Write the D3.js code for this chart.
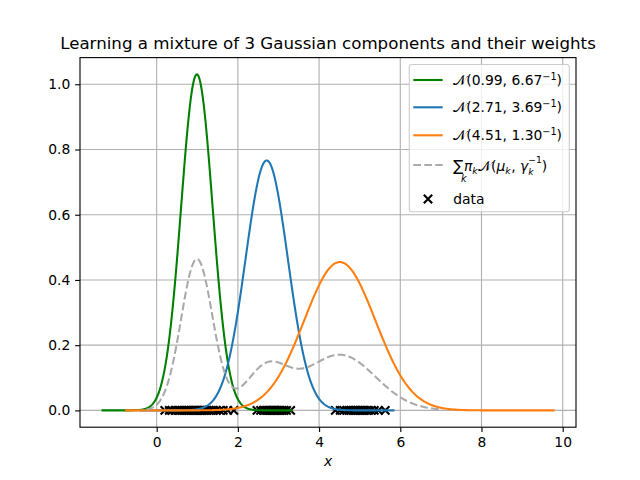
<!DOCTYPE html>
<html><head><meta charset="utf-8">
<script src="https://cdn.jsdelivr.net/npm/d3@7"></script>
<style>body{margin:0;background:#fff} text{font-family:"DejaVu Sans",sans-serif; white-space:pre}</style>
</head><body><svg id="c" width="640" height="480"></svg>
<script>
// ---- data ----
const means = [0.99, 2.71, 4.51];
const precisions = [6.67, 3.69, 1.30];
const weights = [0.45, 0.165, 0.375];
const compColors = ["#008000", "#1f77b4", "#ff7f0e"];
const compLabels = ["0.99, 6.67", "2.71, 3.69", "4.51, 1.30"];
const sdSpan = 6;
const mixtureRange = [-0.25, 7.0];
const dataX = [
  0.20, 0.31, 0.38, 0.45, 0.52, 0.58, 0.63, 0.67, 0.72, 0.76, 0.80, 0.84, 0.88, 0.91, 0.94, 0.97,
  1.00, 1.03, 1.06, 1.09, 1.12, 1.16, 1.20, 1.24, 1.29, 1.34, 1.40, 1.47, 1.55, 1.64, 1.75, 1.90,
  2.47, 2.56, 2.63, 2.68, 2.72, 2.76, 2.80, 2.83, 2.86, 2.89, 2.92, 2.95, 2.98, 3.01, 3.05, 3.09, 3.14, 3.20, 3.30,
  4.40, 4.52, 4.61, 4.68, 4.74, 4.79, 4.84, 4.88, 4.92, 4.96, 5.00, 5.04, 5.08, 5.12, 5.17, 5.22, 5.28, 5.36, 5.46, 5.63
];
const xTicks = [0, 2, 4, 6, 8, 10];
const yTicks = [0.0, 0.2, 0.4, 0.6, 0.8, 1.0];
const titleText = "Learning a mixture of 3 Gaussian components and their weights";

// ---- helpers ----
function pdf(x, mu, prec) { return Math.sqrt(prec / (2 * Math.PI)) * Math.exp(-0.5 * prec * (x - mu) ** 2); }
function grid(a, b, n) { const s = []; for (let i = 0; i < n; i++) s.push(a + (b - a) * i / (n - 1)); return s; }

const comps = means.map((mu, i) => {
  const sd = 1 / Math.sqrt(precisions[i]);
  const xs = grid(mu - sdSpan * sd, mu + sdSpan * sd, 600);
  return xs.map(x => [x, pdf(x, mu, precisions[i])]);
});
const mix = grid(mixtureRange[0], mixtureRange[1], 600).map(x =>
  [x, d3.sum(means, (mu, i) => weights[i] * pdf(x, mu, precisions[i]))]);

// ---- layout ----
const L = 80, R = 576, T = 57.6, B = 427.2;
const svg = d3.select("#c");
const allPts = comps.flat().concat(mix).concat(dataX.map(x => [x, 0]));
const xe = d3.extent(allPts, d => d[0]), ye = d3.extent(allPts, d => d[1]);
const xm = (xe[1] - xe[0]) * 0.05, ym = (ye[1] - ye[0]) * 0.05;
const x = d3.scaleLinear().domain([xe[0] - xm, xe[1] + xm]).range([L, R]);
const y = d3.scaleLinear().domain([ye[0] - ym, ye[1] + ym]).range([B, T]);

svg.append("defs").append("clipPath").attr("id", "clp")
  .append("rect").attr("x", L).attr("y", T).attr("width", R - L).attr("height", B - T);

// grid
const g = svg.append("g");
g.selectAll(".gx").data(xTicks).join("line").attr("x1", d => x(d)).attr("x2", d => x(d))
  .attr("y1", T).attr("y2", B).attr("stroke", "#b0b0b0").attr("stroke-width", 1.11);
g.selectAll(".gy").data(yTicks).join("line").attr("y1", d => y(d)).attr("y2", d => y(d))
  .attr("x1", L).attr("x2", R).attr("stroke", "#b0b0b0").attr("stroke-width", 1.11);

// scatter
const plot = svg.append("g").attr("clip-path", "url(#clp)");
const ms = 4.17;
const xMark = `M${-ms},${-ms}L${ms},${ms}M${-ms},${ms}L${ms},${-ms}`;
plot.selectAll(".pt").data(dataX).join("path").attr("d", xMark)
  .attr("transform", d => `translate(${x(d)},${y(0)})`)
  .attr("stroke", "#000").attr("stroke-width", 2.08).attr("fill", "none");

// lines
const line = d3.line().x(d => x(d[0])).y(d => y(d[1]));
comps.forEach((c, i) => {
  plot.append("path").attr("d", line(c)).attr("fill", "none").attr("stroke", compColors[i])
    .attr("stroke-width", 2.08).attr("stroke-linejoin", "round").attr("stroke-linecap", "square");
});
plot.append("path").attr("d", line(mix)).attr("fill", "none").attr("stroke", "#aaaaaa")
  .attr("stroke-width", 2.08).attr("stroke-dasharray", "7.7,3.33");

// axes
const ax = svg.append("g").attr("transform", `translate(0,${B})`)
  .call(d3.axisBottom(x).tickValues(xTicks).tickSize(4.86).tickPadding(4.86).tickFormat(d3.format("d")));
const ay = svg.append("g").attr("transform", `translate(${L},0)`)
  .call(d3.axisLeft(y).tickValues(yTicks).tickSize(4.86).tickPadding(4.86).tickFormat(d3.format(".1f")));
[ax, ay].forEach(a => {
  a.select(".domain").remove();
  a.selectAll("line").attr("stroke", "#000").attr("stroke-width", 1.11);
  a.selectAll("text").attr("font-size", 13.89).attr("font-family", "DejaVu Sans").attr("fill", "#000");
});
svg.append("rect").attr("x", L).attr("y", T).attr("width", R - L).attr("height", B - T)
  .attr("fill", "none").attr("stroke", "#000").attr("stroke-width", 1.11);

// title & label
svg.append("text").attr("x", (L + R) / 2).attr("y", 49.3).attr("text-anchor", "middle")
  .attr("font-size", 16.67).text(titleText);
svg.append("text").attr("x", (L + R) / 2).attr("y", 466).attr("text-anchor", "middle")
  .attr("font-size", 13.89).attr("font-style", "italic").text("x");

// legend
const lg = svg.append("g");
lg.append("rect").attr("x", 409.3).attr("y", 64.5).attr("width", 160).attr("height", 147.2)
  .attr("rx", 2.8).attr("fill", "#fff").attr("fill-opacity", 0.8).attr("stroke", "#cccccc").attr("stroke-width", 1.11);
const rows = [80, 107.3, 135.3, 165, 199];
const hx0 = 413.3, hx1 = 442.7, tx = 453.3, fs = 13.89;

function flow(pieces, x0, base) {
  let cx = x0;
  pieces.forEach(p => {
    const t = lg.append("text").attr("x", cx + (p.dx || 0)).attr("y", base + (p.dy || 0))
      .attr("font-size", p.size || fs).attr("font-style", p.italic ? "italic" : "normal")
      .attr("font-family", p.font || "DejaVu Sans").text(p.t);
    const w = t.node().getComputedTextLength();
    if (!p.stack) cx += w + (p.dx || 0) + (p.after || 0);
  });
  return cx;
}

compLabels.forEach((lab, i) => {
  lg.append("line").attr("x1", hx0).attr("x2", hx1).attr("y1", rows[i]).attr("y2", rows[i])
    .attr("stroke", compColors[i]).attr("stroke-width", 2.08);
  flow([
    { t: "\u{1D4A9}" },
    { t: "(" + lab },
    { t: "\u22121", size: 9.7, dy: -5.5 },
    { t: ")" }
  ], tx, rows[i] + 5);
});
lg.append("line").attr("x1", hx0).attr("x2", hx1).attr("y1", rows[3]).attr("y2", rows[3])
  .attr("stroke", "#aaaaaa").attr("stroke-width", 2.08).attr("stroke-dasharray", "7.7,3.33");
{
  const b = rows[3] + 5.5;
  flow([
    { t: "\u2211", size: 15, after: 0.5 },
    { t: "k", size: 9.7, italic: true, dy: 11.2, dx: -3, stack: true },
    { t: "\u03C0", italic: true },
    { t: "k", size: 9.2, italic: true, dy: 3, after: 0.5 },
    { t: "\u{1D4A9}" },
    { t: "(" },
    { t: "\u03BC", italic: true },
    { t: "k", size: 9.2, italic: true, dy: 3, after: 0.5 },
    { t: ",\u00A0" },
    { t: "\u03B3", italic: true },
    { t: "k", size: 9.2, italic: true, dy: 4, stack: true },
    { t: "\u22121", size: 9.2, dy: -7.2 },
    { t: ")" }
  ], tx, b);
}
lg.append("path").attr("d", xMark).attr("transform", `translate(${(hx0 + hx1) / 2},${rows[4]})`)
  .attr("stroke", "#000").attr("stroke-width", 2.08).attr("fill", "none");
lg.append("text").attr("x", tx).attr("y", rows[4] + 4.5).attr("font-size", fs).text("data");
</script></body></html>
